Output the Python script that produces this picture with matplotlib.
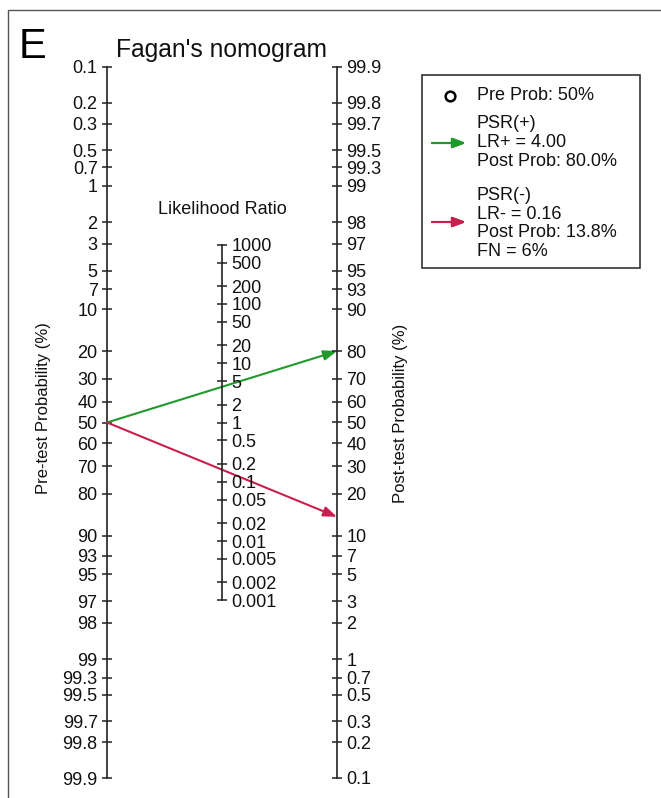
import numpy as np
import matplotlib.pyplot as plt
from matplotlib.patches import Rectangle
from matplotlib.ticker import FixedLocator, FixedFormatter, NullLocator

plt.rcParams['font.family'] = ['Liberation Sans', 'DejaVu Sans']

# Probability scale ticks (%)
pre_ticks = [0.1, 0.2, 0.3, 0.5, 0.7, 1, 2, 3, 5, 7, 10, 20, 30, 40, 50,
             60, 70, 80, 90, 93, 95, 97, 98, 99, 99.3, 99.5, 99.7, 99.8, 99.9]
post_ticks = [99.9, 99.8, 99.7, 99.5, 99.3, 99, 98, 97, 95, 93, 90, 80, 70,
              60, 50, 40, 30, 20, 10, 7, 5, 3, 2, 1, 0.7, 0.5, 0.3, 0.2, 0.1]
# Likelihood ratio ticks
lr_ticks = [1000, 500, 200, 100, 50, 20, 10, 5, 2, 1, 0.5, 0.2, 0.1,
            0.05, 0.02, 0.01, 0.005, 0.002, 0.001]

pre_prob = 50.0
lr_pos = 4.00
lr_neg = 0.16
fn_pct = 6

GREEN = '#1f9a2b'
RED = '#c8204e'
AXC = '#222222'
TXT = '#111111'
TICK_FS = 13


def fmt(v):
    return ('%g' % v)


def post_prob(pre, lr):
    odds = pre / (100 - pre) * lr
    return 100 * odds / (1 + odds)


post_pos = post_prob(pre_prob, lr_pos)
post_neg = post_prob(pre_prob, lr_neg)

W, H = 661, 798
fig = plt.figure(figsize=(W / 100, H / 100), dpi=100)


def fx(px):
    return px / W


def fy(py):
    return 1 - py / H


x_left, x_right, x_mid = 107, 337, 222
y_top, y_bot = 67, 778
pmin, pmax = 0.001, 0.999

tick_kw = dict(axis='y', direction='inout', length=6.5, width=1.1, color=AXC,
               labelsize=TICK_FS, pad=3.5, labelcolor=TXT)

# main axes: left spine = pre-test scale, right spine (twin) = post-test scale
ax = fig.add_axes([fx(x_left), fy(y_bot), fx(x_right) - fx(x_left), fy(y_top) - fy(y_bot)])
ax.set_yscale('logit')
ax.set_ylim(pmax, pmin)
ax.set_xlim(0, 1)
ax.patch.set_alpha(0)
for s in ['top', 'bottom', 'right']:
    ax.spines[s].set_visible(False)
ax.spines['left'].set_color(AXC)
ax.spines['left'].set_linewidth(1.2)
ax.set_xticks([])
ax.yaxis.set_major_locator(FixedLocator([t / 100 for t in pre_ticks]))
ax.yaxis.set_major_formatter(FixedFormatter([fmt(t) for t in pre_ticks]))
ax.yaxis.set_minor_locator(NullLocator())
ax.tick_params(**tick_kw)

axr = ax.twinx()
axr.set_yscale('logit')
axr.set_ylim(pmin, pmax)
axr.patch.set_alpha(0)
for s in ['top', 'bottom', 'left']:
    axr.spines[s].set_visible(False)
axr.spines['right'].set_color(AXC)
axr.spines['right'].set_linewidth(1.2)
axr.yaxis.set_major_locator(FixedLocator([t / 100 for t in post_ticks]))
axr.yaxis.set_major_formatter(FixedFormatter([fmt(t) for t in post_ticks]))
axr.yaxis.set_minor_locator(NullLocator())
axr.tick_params(**tick_kw)

# middle likelihood-ratio scale (half the logit slope)
half = 2 * np.log10(pmax / pmin)
axm = fig.add_axes([fx(x_mid) - 0.001, fy(y_bot), 0.001, fy(y_top) - fy(y_bot)])
axm.set_yscale('log')
axm.set_ylim(10 ** -half, 10 ** half)
axm.patch.set_alpha(0)
for s in ['top', 'bottom', 'left']:
    axm.spines[s].set_visible(False)
axm.spines['right'].set_color(AXC)
axm.spines['right'].set_linewidth(1.2)
axm.spines['right'].set_bounds(min(lr_ticks), max(lr_ticks))
axm.set_xticks([])
axm.yaxis.tick_right()
axm.yaxis.set_major_locator(FixedLocator(lr_ticks))
axm.yaxis.set_major_formatter(FixedFormatter([fmt(t) for t in lr_ticks]))
axm.yaxis.set_minor_locator(NullLocator())
axm.tick_params(**tick_kw)

arrow_style = '-|>,head_length=0.8,head_width=0.3'

# nomogram lines
for post, col in [(post_pos, GREEN), (post_neg, RED)]:
    ax.annotate('', xy=(1, 1 - post / 100), xytext=(0, pre_prob / 100),
                xycoords='data', textcoords='data',
                arrowprops=dict(arrowstyle=arrow_style, color=col, lw=1.5,
                                shrinkA=0, shrinkB=0, mutation_scale=10))

# text
fig.text(fx(19), fy(58), 'E', fontsize=30, ha='left', va='baseline', color='black')
fig.text(fx(222), fy(57), "Fagan's nomogram", fontsize=17.7, ha='center',
         va='baseline', color=TXT)
fig.text(fx(222), fy(209), 'Likelihood Ratio', fontsize=13, ha='center',
         va='center', color=TXT)
fig.text(fx(44), fy(408), 'Pre-test Probability (%)', fontsize=12, rotation=90,
         ha='center', va='center', color=TXT)
fig.text(fx(400), fy(413), 'Post-test Probability (%)', fontsize=12, rotation=90,
         ha='center', va='center', color=TXT)

# legend box
fig.patches.append(Rectangle((fx(422), fy(268)), fx(640) - fx(422), fy(75) - fy(268),
                             transform=fig.transFigure, fill=False,
                             edgecolor='#333333', lw=1.2))
fig.lines.append(plt.Line2D([fx(450)], [fy(96)], transform=fig.transFigure,
                            marker='o', markersize=7, markerfacecolor='none',
                            markeredgecolor='black', markeredgewidth=1.8))
fig.text(fx(477), fy(96), 'Pre Prob: %g%%' % pre_prob, fontsize=13, va='center',
         color=TXT)
fig.text(fx(477), fy(142.5), 'PSR(+)\nLR+ = %.2f\nPost Prob: %.1f%%' % (lr_pos, post_pos),
         fontsize=13, va='center', linespacing=1.12, color=TXT)
fig.text(fx(477), fy(223.5), 'PSR(-)\nLR- = %.2f\nPost Prob: %.1f%%\nFN = %d%%'
         % (lr_neg, post_neg, fn_pct), fontsize=13, va='center', linespacing=1.12,
         color=TXT)
for yy, col in [(143, GREEN), (222, RED)]:
    fig.add_artist(plt.annotate('', xy=(fx(466), fy(yy)), xytext=(fx(432), fy(yy)),
                                xycoords='figure fraction', textcoords='figure fraction',
                                arrowprops=dict(arrowstyle=arrow_style, color=col, lw=1.5,
                                                shrinkA=0, shrinkB=0, mutation_scale=10)))

# outer frame (top and left edges)
fig.patches.append(Rectangle((fx(8), fy(H + 20)), 1.5, fy(10) - fy(H + 20),
                             transform=fig.transFigure, fill=False,
                             edgecolor='#555555', lw=1.0))

fig.savefig('out.png', dpi=100)
